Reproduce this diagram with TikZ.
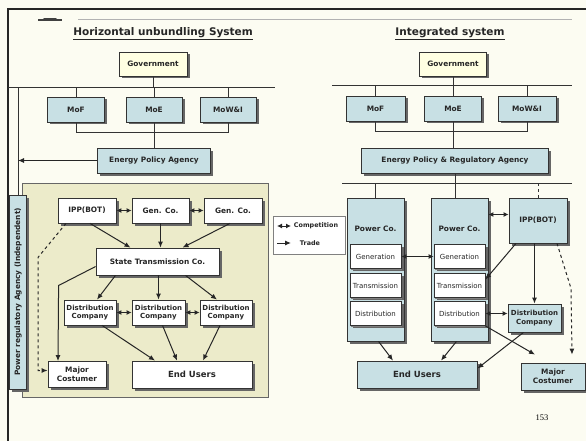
\documentclass[tikz,border=0pt]{standalone}
\usepackage{fontspec}
\setmainfont{DejaVu Sans}
\newfontfamily\pagefont{Liberation Serif}
\usepackage{tikz}
\usetikzlibrary{arrows.meta,shadows}

\definecolor{pagebg}{RGB}{252,252,242}
\definecolor{zonetan}{RGB}{236,235,202}
\definecolor{boxblue}{RGB}{200,224,228}
\definecolor{govyellow}{RGB}{255,255,226}

\begin{document}
\begin{tikzpicture}[x=1pt, y=-1pt, thick]
        % Define a style for the nodes
        \tikzstyle{basebox} = [rectangle, draw=black!80, line width=0.8pt, inner sep=1pt, align=center, text=black!85, font=\bfseries\fontsize{7.4}{8.6}\selectfont, drop shadow={shadow xshift=2.5pt, shadow yshift=-2.5pt, opacity=1, fill=black!60}]
        \tikzstyle{bluebox} = [basebox, fill=boxblue]
        \tikzstyle{whitebox} = [basebox, fill=white]
        \tikzstyle{govbox} = [basebox, fill=govyellow]
        \tikzstyle{distbox} = [whitebox, font=\bfseries\fontsize{7}{8.2}\selectfont]
        \tikzstyle{subbox} = [whitebox, font=\fontsize{7}{8}\selectfont, minimum width=51, minimum height=24, drop shadow={shadow xshift=1pt, shadow yshift=-1pt, opacity=1, fill=black!50}]
        \tikzstyle{title} = [font=\bfseries\fontsize{10.5}{12}\selectfont, text=black!85]
        \tikzstyle{arrow} = [-{Latex[length=6pt, width=5pt]}, line width=1pt, black!85]
        \tikzstyle{twoway} = [{Latex[length=5pt, width=5pt]}-{Latex[length=5pt, width=5pt]}, line width=1pt, black!85]
        \tikzstyle{bus} = [line width=1pt, black!80]

        % Page
        \useasboundingbox (0,0) rectangle (586,441);
        \fill[pagebg] (0,0) rectangle (586,441);
        \draw[line width=2pt, black!85] (8,441) -- (8,9) -- (586,9);
        \draw[black!30, line width=0.8pt] (78,19.5) -- (572,19.5);
        \draw[black!75, line width=1.6pt] (38,20.2) -- (62,20.2);
        \draw[black!75, line width=1.4pt, line cap=round] (44,18.4) -- (56,18.4);

        % Nodes (left)
        \node[title] (titleL) at (163,34) {\underline{Horizontal unbundling System}};
        \node[govbox, minimum width=68, minimum height=24] (govL) at (153,64) {Government};
        \node[bluebox, minimum width=57, minimum height=25] (mofL) at (76,109.5) {MoF};
        \node[bluebox, minimum width=56, minimum height=25] (moeL) at (154,109.5) {MoE};
        \node[bluebox, minimum width=56, minimum height=25] (mowL) at (228,109.5) {MoW\&I};
        \node[bluebox, minimum width=113, minimum height=25] (epaL) at (154,160.5) {Energy Policy Agency};
        \node[rectangle, draw=black!60, fill=zonetan, line width=0.8pt, minimum width=246, minimum height=214] (zoneL) at (145,290) {};
        \node[bluebox, rotate=90, minimum width=194, minimum height=17, font=\bfseries\fontsize{7.4}{8}\selectfont] (praL) at (18,292) {Power regulatory Agency (Independent)};
        \node[whitebox, minimum width=58, minimum height=25] (ippL) at (87,210.5) {IPP(BOT)};
        \node[whitebox, minimum width=57, minimum height=25] (genL1) at (160.5,210.5) {Gen. Co.};
        \node[whitebox, minimum width=58, minimum height=25] (genL2) at (233,210.5) {Gen. Co.};
        \node[whitebox, minimum width=123, minimum height=27] (stcL) at (157.5,261.5) {State Transmission Co.};
        \node[distbox, minimum width=52, minimum height=25] (dcL1) at (90,312.5) {Distribution\\Company};
        \node[distbox, minimum width=53, minimum height=25] (dcL2) at (158.5,312.5) {Distribution\\Company};
        \node[distbox, minimum width=52, minimum height=25] (dcL3) at (226,312.5) {Distribution\\Company};
        \node[whitebox, minimum width=58, minimum height=26] (mcL) at (77,374.5) {Major\\Costumer};
        \node[whitebox, minimum width=120, minimum height=27, font=\bfseries\fontsize{8.5}{10}\selectfont] (euL) at (192,374.5) {End Users};

        % Legend
        \node[rectangle, draw=black!50, fill=white, line width=0.8pt, minimum width=72, minimum height=38] (legend) at (309,235) {};
        \node[font=\bfseries\fontsize{6.4}{7}\selectfont, text=black!85] (legComp) at (316,226) {Competition};
        \node[font=\bfseries\fontsize{6.4}{7}\selectfont, text=black!85] (legTrade) at (310,243) {Trade};
        \coordinate (legA1) at (277,226);
        \coordinate (legA2) at (291,226);
        \coordinate (legB1) at (277,243);
        \coordinate (legB2) at (291,243);

        % Nodes (right)
        \node[title] (titleR) at (450,34) {\underline{Integrated system}};
        \node[govbox, minimum width=67, minimum height=24] (govR) at (453,64) {Government};
        \node[bluebox, minimum width=59, minimum height=25] (mofR) at (375.5,108.5) {MoF};
        \node[bluebox, minimum width=57, minimum height=25] (moeR) at (453,108.5) {MoE};
        \node[bluebox, minimum width=58, minimum height=25] (mowR) at (527,108.5) {MoW\&I};
        \node[bluebox, minimum width=187, minimum height=25] (epraR) at (455,160.5) {Energy Policy \& Regulatory Agency};
        \node[bluebox, minimum width=57, minimum height=143] (pwr1) at (375.5,269.5) {};
        \node[bluebox, minimum width=57, minimum height=143] (pwr2) at (459.5,269.5) {};
        \node[font=\bfseries\fontsize{7.4}{8}\selectfont, text=black!85] (pwr1lbl) at ([yshift=-31pt]pwr1.north) {Power Co.};
        \node[font=\bfseries\fontsize{7.4}{8}\selectfont, text=black!85] (pwr2lbl) at ([yshift=-31pt]pwr2.north) {Power Co.};
        \node[subbox] (gen1) at (375.5,256.5) {Generation};
        \node[subbox] (tr1) at (375.5,285.5) {Transmission};
        \node[subbox] (dist1) at (375.5,313.5) {Distribution};
        \node[subbox] (gen2) at (459.5,256.5) {Generation};
        \node[subbox] (tr2) at (459.5,285.5) {Transmission};
        \node[subbox] (dist2) at (459.5,313.5) {Distribution};
        \node[bluebox, minimum width=58, minimum height=45] (ippR) at (538,220.5) {IPP(BOT)};
        \node[bluebox, minimum width=53, minimum height=28, font=\bfseries\fontsize{7}{8.2}\selectfont] (dcR) at (534.5,318) {Distribution\\Company};
        \node[bluebox, minimum width=120, minimum height=27, font=\bfseries\fontsize{8.5}{10}\selectfont] (euR) at (417,374.5) {End Users};
        \node[bluebox, minimum width=64, minimum height=27] (mcR) at (553,376.5) {Major\\Costumer};

        \node[font=\pagefont\fontsize{8.5}{10}\selectfont] (pagenum) at (542,418) {153};

        % Edges (left)
        \coordinate (busL1w) at (8,88);
        \coordinate (busL1e) at (275,88);
        \coordinate (busL2w) at (76,133);
        \coordinate (busL2e) at (228,133);
        \draw[bus] (busL1w) -- (busL1e);
        \draw[bus] (govL.south) -- (govL.south |- busL1w);
        \draw[bus] (mofL.north |- busL1w) -- (mofL.north);
        \draw[bus] (moeL.north |- busL1w) -- (moeL.north);
        \draw[bus] (mowL.north |- busL1w) -- (mowL.north);
        \draw[bus] (busL2w) -- (busL2e);
        \draw[bus] (mofL.south) -- (mofL.south |- busL2w);
        \draw[bus] (mowL.south) -- (mowL.south |- busL2e);
        \draw[bus] (moeL.south) -- (epaL.north);
        \draw[bus] (praL.east |- busL1w) -- (praL.east);
        \draw[arrow] (epaL.west) -- (epaL.west -| praL.east);

        \draw[twoway] (ippL.east) -- (genL1.west);
        \draw[twoway] (genL1.east) -- (genL2.west);
        \draw[arrow] ([xshift=3pt]ippL.south) -- ([xshift=-27pt]stcL.north);
        \draw[arrow] (genL1.south) -- (genL1.south |- stcL.north);
        \draw[arrow] ([xshift=-3pt]genL2.south) -- ([xshift=25pt]stcL.north);
        \draw[arrow] ([xshift=-42pt]stcL.south) -- ([xshift=7pt]dcL1.north);
        \draw[arrow] (dcL2.north |- stcL.south) -- (dcL2.north);
        \draw[arrow] ([xshift=28pt]stcL.south) -- ([xshift=-9pt]dcL3.north);
        \draw[arrow] ([yshift=-5pt]stcL.west) -- ++(-37,19) -- ([xshift=-19pt]mcL.north);
        \draw[arrow, dashed] ([xshift=-21pt]ippL.south) -- ++(-28,34) |- ([yshift=4pt]mcL.west);
        \draw[twoway] (dcL1.east) -- (dcL2.west);
        \draw[twoway] (dcL2.east) -- (dcL3.west);
        \draw[arrow] ([xshift=12pt]dcL1.south) -- ([xshift=-37pt]euL.north);
        \draw[arrow] ([xshift=4pt]dcL2.south) -- ([xshift=-15pt]euL.north);
        \draw[arrow] ([xshift=-6pt]dcL3.south) -- ([xshift=11pt]euL.north);

        % Edges (legend)
        \draw[twoway] (legA1) -- (legA2);
        \draw[arrow] (legB1) -- (legB2);

        % Edges (right)
        \coordinate (busR1w) at (332,86);
        \coordinate (busR1e) at (572,86);
        \coordinate (busR2w) at (375.5,132);
        \coordinate (busR2e) at (527,132);
        \coordinate (busR3w) at (342,183);
        \coordinate (busR3e) at (572,183);
        \draw[bus] (busR1w) -- (busR1e);
        \draw[bus] (govR.south) -- (govR.south |- busR1w);
        \draw[bus] (mofR.north |- busR1w) -- (mofR.north);
        \draw[bus] (moeR.north |- busR1w) -- (moeR.north);
        \draw[bus] (mowR.north |- busR1w) -- (mowR.north);
        \draw[bus] (busR2w) -- (busR2e);
        \draw[bus] (mofR.south) -- (mofR.south |- busR2w);
        \draw[bus] (mowR.south) -- (mowR.south |- busR2e);
        \draw[bus] (moeR.south) -- (moeR.south |- epraR.north);
        \draw[bus] (busR3w) -- (busR3e);
        \draw[bus] (epraR.south) -- (epraR.south |- pwr2.north);
        \draw[bus] (pwr1.north |- busR3w) -- (pwr1.north);
        \draw[bus, dashed] (ippR.north |- busR3w) -- (ippR.north);

        \coordinate (ippRin) at ([yshift=6pt]ippR.west);
        \draw[twoway] (ippRin -| pwr2.east) -- (ippRin);
        \draw[twoway] (gen1.east) -- (gen2.west);
        \draw[arrow] ([xshift=-22pt]ippR.south) -- ([yshift=6pt]tr2.east);
        \draw[arrow] (dcR.north |- ippR.south) -- (dcR.north);
        \draw[arrow, dashed] ([xshift=19pt]ippR.south) -- ++(14,45) -- ([xshift=19pt, yshift=8pt]mcR.north);
        \draw[twoway] (dist2.east) -- (dist2.east -| dcR.west);
        \draw[arrow] (dist2.south east) -- ([xshift=-18pt, yshift=8pt]mcR.north);
        \draw[arrow] ([xshift=-11pt]dcR.south) -- ([yshift=6pt]euR.east);
        \draw[arrow] ([xshift=3pt]pwr1.south) -- ([xshift=-24pt]euR.north);
        \draw[arrow] ([xshift=-3pt]pwr2.south) -- ([xshift=24pt]euR.north);
\end{tikzpicture}
\end{document}
